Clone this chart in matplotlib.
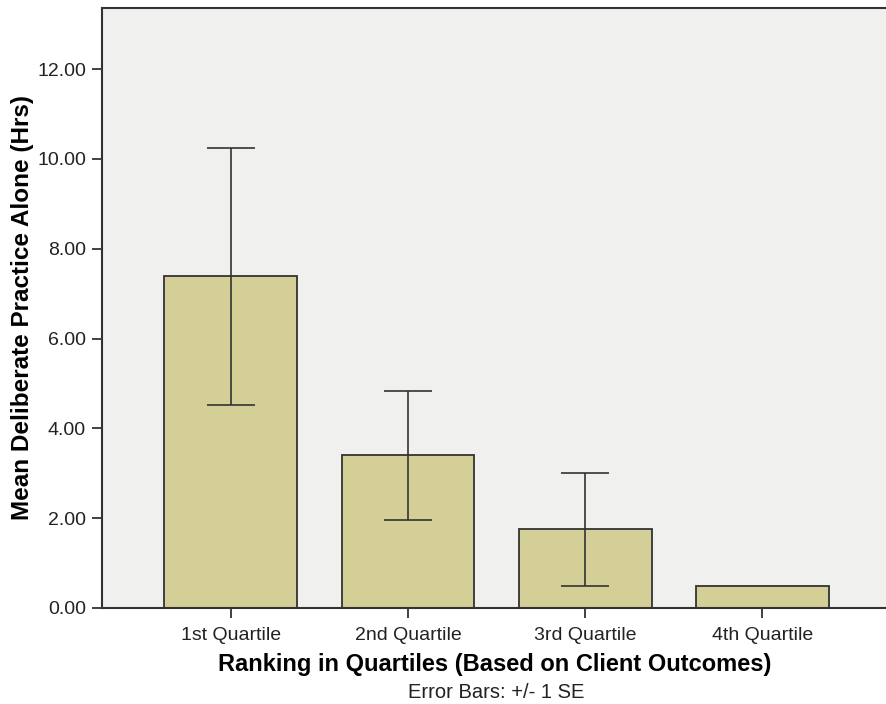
import matplotlib
matplotlib.use("Agg")
import matplotlib.pyplot as plt
import numpy as np

categories = ["1st Quartile", "2nd Quartile", "3rd Quartile", "4th Quartile"]
means = [7.40, 3.40, 1.75, 0.50]
se_upper = [10.25, 4.83, 3.00, 0.50]
se_lower = [4.53, 1.97, 0.50, 0.50]

plt.rcParams['font.family'] = ['Liberation Sans', 'DejaVu Sans']

fig = plt.figure(figsize=(8.87, 7.04), dpi=100)
ax = fig.add_axes([102/887, 96/704, 1 - 102/887, (608-8)/704])
ax.set_facecolor('#f0f1ef')

x = np.arange(len(categories))
ax.bar(x, means, width=0.75, color='#d3cf96', edgecolor='#333333', linewidth=1.3, zorder=2)
yerr = [np.array(means) - np.array(se_lower), np.array(se_upper) - np.array(means)]
mask = [i for i in range(len(means)) if se_upper[i] > se_lower[i]]
ax.errorbar(x[mask], np.array(means)[mask],
            yerr=[yerr[0][mask], yerr[1][mask]],
            fmt='none', ecolor='#333333', elinewidth=1.2, capsize=17, capthick=1.2, zorder=3)

ax.set_xlim(-0.727, 3.703)
ax.set_ylim(0, 13.36)
ax.set_yticks([0, 2, 4, 6, 8, 10, 12])
ax.set_yticklabels([f"{v:.2f}" for v in [0, 2, 4, 6, 8, 10, 12]], fontsize=14)
ax.set_xticks(x)
ax.set_xticklabels(categories, fontsize=14)

for s in ['left', 'bottom', 'top']:
    ax.spines[s].set_color('#333333')
    ax.spines[s].set_linewidth(1.5)
ax.spines['right'].set_visible(False)
ax.tick_params(axis='both', direction='out', length=7.5, width=1.3, color='#333333', labelcolor='#222222')
ax.tick_params(axis='x', pad=6.5)
ax.tick_params(axis='y', pad=4)

ax.set_ylabel("Mean Deliberate Practice Alone (Hrs)", fontsize=17.5, fontweight='bold', labelpad=2)
ax.set_xlabel("Ranking in Quartiles (Based on Client Outcomes)", fontsize=17, fontweight='bold', labelpad=6)
fig.text(496/887, 1 - 692/704, "Error Bars: +/- 1 SE", ha='center', va='center', fontsize=14.5, color='#222222')

fig.savefig("out.png", dpi=100)
